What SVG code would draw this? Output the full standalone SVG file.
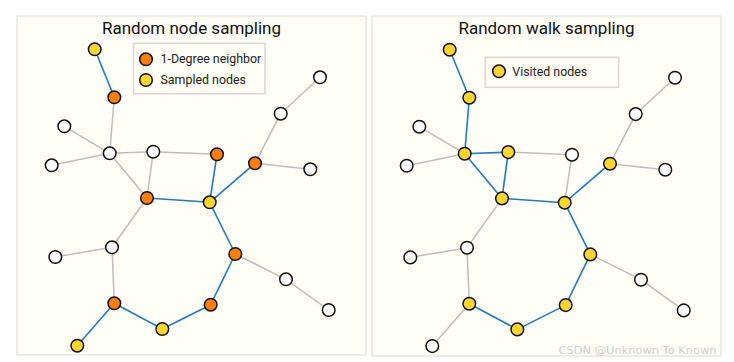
<svg xmlns="http://www.w3.org/2000/svg" width="734" height="362" viewBox="0 0 734 362">
<style>
.panel{fill:#fffef7;stroke:#e3e3e1;stroke-width:1.3}
.leg{fill:#fffef7;stroke:#d9d9d7;stroke-width:1.6}
.title{font-family:Roboto,"Liberation Sans",sans-serif;font-size:17px;fill:#111;text-anchor:middle}
.lt{font-family:Roboto,"Liberation Sans",sans-serif;font-size:12.4px;fill:#222}
.e{stroke:#bdbdbd;stroke-width:1.5;fill:none}
.b{stroke:#2479b8;stroke-width:1.6;fill:none}
circle{stroke:#111;stroke-width:1.5}
.w{fill:#ffffff}
.o{fill:#ff7f0a}
.y{fill:#fdd530}
.wm{font-family:"DejaVu Sans",Verdana,sans-serif;font-size:10.5px;fill:#cfcfcf;text-anchor:end}
</style>
<rect width="734" height="362" fill="#ffffff"/>
<rect class="panel" x="17" y="16" width="349" height="339"/>
<rect class="panel" x="372" y="16" width="349" height="340"/>
<text class="title" x="191.5" y="34">Random node sampling</text>
<text class="title" x="546.5" y="34">Random walk sampling</text>

<g id="legend-left">
<rect class="leg" x="133.5" y="43.3" width="131.5" height="50.5"/>
<circle class="o" cx="146" cy="59.3" r="6.3"/>
<text class="lt" x="160.5" y="62.8">1-Degree neighbor</text>
<circle class="y" cx="146" cy="80" r="6.3"/>
<text class="lt" x="160.5" y="84">Sampled nodes</text>
</g>
<g id="legend-right">
<rect class="leg" x="485.3" y="57.3" width="133.3" height="30"/>
<circle class="y" cx="499" cy="71.3" r="6.3"/>
<text class="lt" x="512.3" y="75.6">Visited nodes</text>
</g>

<g id="connectors-left">
<line class="b" x1="94.7" y1="49.3" x2="114.3" y2="97.3"/>
<line class="e" x1="114.3" y1="97.3" x2="109.7" y2="153.3"/>
<line class="e" x1="64.3" y1="126.3" x2="109.7" y2="153.3"/>
<line class="e" x1="51.7" y1="165.3" x2="109.7" y2="153.3"/>
<line class="e" x1="109.7" y1="153.3" x2="153.3" y2="151.7"/>
<line class="e" x1="109.7" y1="153.3" x2="147" y2="198"/>
<line class="e" x1="153.3" y1="151.7" x2="147" y2="198"/>
<line class="e" x1="153.3" y1="151.7" x2="217" y2="154.3"/>
<line class="b" x1="217" y1="154.3" x2="209.7" y2="202.3"/>
<line class="b" x1="255" y1="163.3" x2="209.7" y2="202.3"/>
<line class="e" x1="255" y1="163.3" x2="310.3" y2="169.3"/>
<line class="e" x1="255" y1="163.3" x2="280.7" y2="113.7"/>
<line class="e" x1="280.7" y1="113.7" x2="320" y2="77.3"/>
<line class="b" x1="147" y1="198" x2="209.7" y2="202.3"/>
<line class="b" x1="209.7" y1="202.3" x2="235.3" y2="254"/>
<line class="e" x1="147" y1="198" x2="112" y2="247.3"/>
<line class="e" x1="112" y1="247.3" x2="55.3" y2="257"/>
<line class="e" x1="112" y1="247.3" x2="114.3" y2="303.3"/>
<line class="e" x1="235.3" y1="254" x2="286" y2="279.3"/>
<line class="e" x1="286" y1="279.3" x2="328.7" y2="310"/>
<line class="b" x1="235.3" y1="254" x2="210.7" y2="304.7"/>
<line class="b" x1="210.7" y1="304.7" x2="162.3" y2="329"/>
<line class="b" x1="162.3" y1="329" x2="114.3" y2="303.3"/>
<line class="b" x1="114.3" y1="303.3" x2="77.3" y2="345.7"/>
</g>

<g id="nodes-left">
<g id="L1"><circle class="y" cx="94.7" cy="49.3" r="6.3"/></g>
<g id="L2"><circle class="o" cx="114.3" cy="97.3" r="6.3"/></g>
<g id="L3"><circle class="w" cx="64.3" cy="126.3" r="6.3"/></g>
<g id="L4"><circle class="w" cx="109.7" cy="153.3" r="6.3"/></g>
<g id="L5"><circle class="w" cx="153.3" cy="151.7" r="6.3"/></g>
<g id="L6"><circle class="o" cx="217" cy="154.3" r="6.3"/></g>
<g id="L7"><circle class="w" cx="51.7" cy="165.3" r="6.3"/></g>
<g id="L8"><circle class="o" cx="255" cy="163.3" r="6.3"/></g>
<g id="L9"><circle class="w" cx="310.3" cy="169.3" r="6.3"/></g>
<g id="L10"><circle class="w" cx="280.7" cy="113.7" r="6.3"/></g>
<g id="L11"><circle class="w" cx="320" cy="77.3" r="6.3"/></g>
<g id="L12"><circle class="o" cx="147" cy="198" r="6.3"/></g>
<g id="L13"><circle class="y" cx="209.7" cy="202.3" r="6.3"/></g>
<g id="L14"><circle class="w" cx="112" cy="247.3" r="6.3"/></g>
<g id="L15"><circle class="w" cx="55.3" cy="257" r="6.3"/></g>
<g id="L16"><circle class="o" cx="235.3" cy="254" r="6.3"/></g>
<g id="L17"><circle class="w" cx="286" cy="279.3" r="6.3"/></g>
<g id="L18"><circle class="w" cx="328.7" cy="310" r="6.3"/></g>
<g id="L19"><circle class="o" cx="114.3" cy="303.3" r="6.3"/></g>
<g id="L20"><circle class="o" cx="210.7" cy="304.7" r="6.3"/></g>
<g id="L21"><circle class="y" cx="162.3" cy="329" r="6.3"/></g>
<g id="L22"><circle class="y" cx="77.3" cy="345.7" r="6.3"/></g>
</g>

<g id="connectors-right" transform="translate(355,0.4)">
<line class="b" x1="94.7" y1="49.3" x2="114.3" y2="97.3"/>
<line class="b" x1="114.3" y1="97.3" x2="109.7" y2="153.3"/>
<line class="e" x1="64.3" y1="126.3" x2="109.7" y2="153.3"/>
<line class="e" x1="51.7" y1="165.3" x2="109.7" y2="153.3"/>
<line class="b" x1="109.7" y1="153.3" x2="153.3" y2="151.7"/>
<line class="b" x1="109.7" y1="153.3" x2="147" y2="198"/>
<line class="b" x1="153.3" y1="151.7" x2="147" y2="198"/>
<line class="e" x1="153.3" y1="151.7" x2="217" y2="154.3"/>
<line class="e" x1="217" y1="154.3" x2="209.7" y2="202.3"/>
<line class="b" x1="255" y1="163.3" x2="209.7" y2="202.3"/>
<line class="e" x1="255" y1="163.3" x2="310.3" y2="169.3"/>
<line class="e" x1="255" y1="163.3" x2="280.7" y2="113.7"/>
<line class="e" x1="280.7" y1="113.7" x2="320" y2="77.3"/>
<line class="b" x1="147" y1="198" x2="209.7" y2="202.3"/>
<line class="b" x1="209.7" y1="202.3" x2="235.3" y2="254"/>
<line class="e" x1="147" y1="198" x2="112" y2="247.3"/>
<line class="e" x1="112" y1="247.3" x2="55.3" y2="257"/>
<line class="e" x1="112" y1="247.3" x2="114.3" y2="303.3"/>
<line class="e" x1="235.3" y1="254" x2="286" y2="279.3"/>
<line class="e" x1="286" y1="279.3" x2="328.7" y2="310"/>
<line class="b" x1="235.3" y1="254" x2="210.7" y2="304.7"/>
<line class="b" x1="210.7" y1="304.7" x2="162.3" y2="329"/>
<line class="b" x1="162.3" y1="329" x2="114.3" y2="303.3"/>
<line class="e" x1="114.3" y1="303.3" x2="77.3" y2="345.7"/>
</g>

<g id="nodes-right" transform="translate(355,0.4)">
<g id="R1"><circle class="y" cx="94.7" cy="49.3" r="6.3"/></g>
<g id="R2"><circle class="y" cx="114.3" cy="97.3" r="6.3"/></g>
<g id="R3"><circle class="w" cx="64.3" cy="126.3" r="6.3"/></g>
<g id="R4"><circle class="y" cx="109.7" cy="153.3" r="6.3"/></g>
<g id="R5"><circle class="y" cx="153.3" cy="151.7" r="6.3"/></g>
<g id="R6"><circle class="w" cx="217" cy="154.3" r="6.3"/></g>
<g id="R7"><circle class="w" cx="51.7" cy="165.3" r="6.3"/></g>
<g id="R8"><circle class="y" cx="255" cy="163.3" r="6.3"/></g>
<g id="R9"><circle class="w" cx="310.3" cy="169.3" r="6.3"/></g>
<g id="R10"><circle class="w" cx="280.7" cy="113.7" r="6.3"/></g>
<g id="R11"><circle class="w" cx="320" cy="77.3" r="6.3"/></g>
<g id="R12"><circle class="y" cx="147" cy="198" r="6.3"/></g>
<g id="R13"><circle class="y" cx="209.7" cy="202.3" r="6.3"/></g>
<g id="R14"><circle class="w" cx="112" cy="247.3" r="6.3"/></g>
<g id="R15"><circle class="w" cx="55.3" cy="257" r="6.3"/></g>
<g id="R16"><circle class="y" cx="235.3" cy="254" r="6.3"/></g>
<g id="R17"><circle class="w" cx="286" cy="279.3" r="6.3"/></g>
<g id="R18"><circle class="w" cx="328.7" cy="310" r="6.3"/></g>
<g id="R19"><circle class="y" cx="114.3" cy="303.3" r="6.3"/></g>
<g id="R20"><circle class="y" cx="210.7" cy="304.7" r="6.3"/></g>
<g id="R21"><circle class="y" cx="162.3" cy="329" r="6.3"/></g>
<g id="R22"><circle class="w" cx="77.3" cy="345.7" r="6.3"/></g>
</g>

<text class="wm" x="716.5" y="353.5" textLength="158" lengthAdjust="spacingAndGlyphs">CSDN @Unknown To Known</text>
</svg>
